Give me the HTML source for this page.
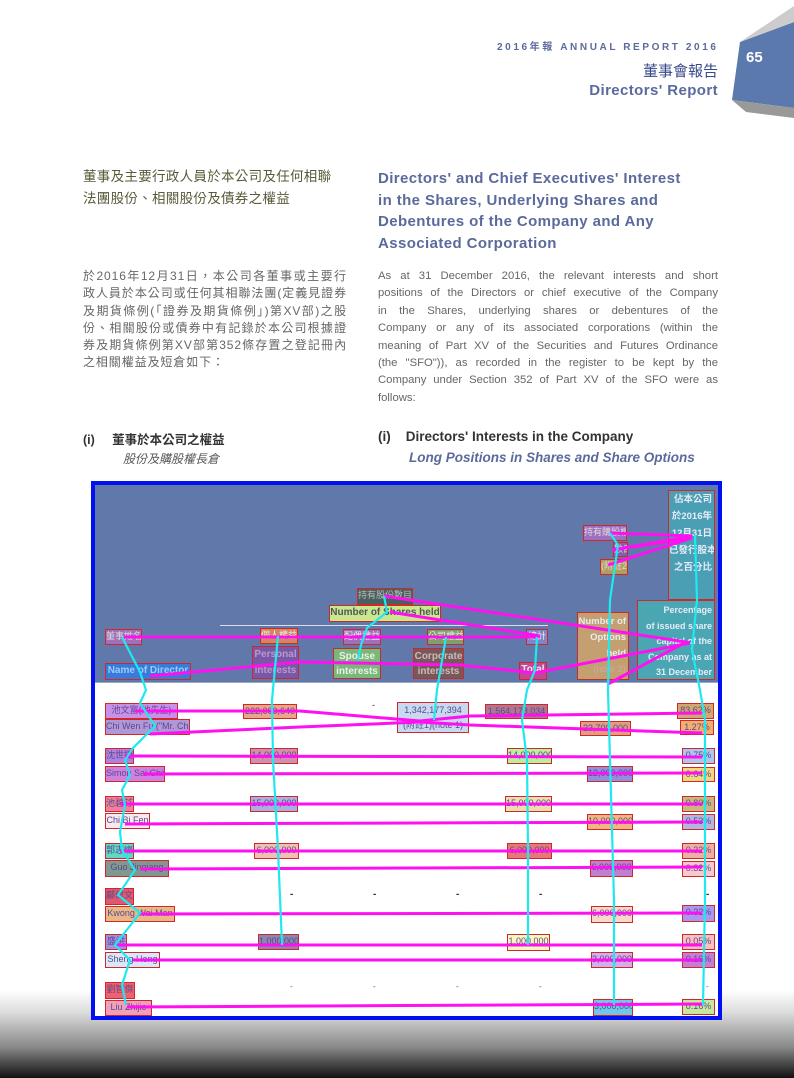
<!DOCTYPE html>
<html><head><meta charset="utf-8"><style>
body{margin:0;width:794px;height:1078px;position:relative;background:#fff;overflow:hidden;font-family:"Liberation Sans","Noto Sans CJK TC",sans-serif;}
.a{position:absolute;white-space:nowrap}
.b{position:absolute;border:1px solid #d02828;box-sizing:border-box;font-size:9px;line-height:13px;color:#5a4a8a;overflow:hidden;white-space:nowrap;text-align:center}
.h{color:#5b6a9c;font-weight:bold;font-size:15px;letter-spacing:0.4px}
.p{color:#666;font-size:11.3px;line-height:17.4px}
.p div{text-align:justify;text-align-last:justify;white-space:nowrap}
.w{color:#e8ecf8;font-weight:bold;font-size:9.5px;line-height:17px;text-align:right;padding-right:2px}
</style></head><body>
<div style="position:absolute;left:0;top:990px;width:794px;height:88px;background:linear-gradient(#fff,#ddd 25%,#888 65%,#111)"></div>

<div class="a" style="left:497px;top:38px;font-size:10px;font-weight:bold;color:#5b6a9c;letter-spacing:2.6px">2016年報 ANNUAL REPORT 2016</div>
<div class="a" style="right:76px;top:60px;font-size:15px;color:#3a4a8a">董事會報告</div>
<div class="a h" style="right:76px;top:82px;font-size:15px">Directors' Report</div>
<svg class="a" style="left:726px;top:0" width="68" height="125"><polygon points="14,42 68,22 68,108 6,100" fill="#5b79ad"/><polygon points="6,100 68,108 68,118 20,112" fill="#999"/><polygon points="14,42 68,6 68,22" fill="#ccc"/><text x="20" y="62" fill="#fff" font-size="15" font-weight="bold" font-family="Liberation Sans">65</text></svg>

<div class="a" style="left:83px;top:166px;font-size:13.5px;line-height:21.5px;color:#5a5a3a;letter-spacing:0.3px">董事及主要行政人員於本公司及任何相聯<br>法團股份、相關股份及債券之權益</div>
<div class="a h" style="left:378px;top:168px;line-height:21.5px">Directors' and Chief Executives' Interest<br>in the Shares, Underlying Shares and<br>Debentures of the Company and Any<br>Associated Corporation</div>
<div class="a p" style="left:83px;top:268px;width:264px;white-space:normal;text-align:justify;font-size:12px;letter-spacing:0.9px;line-height:17.3px">於2016年12月31日，本公司各董事或主要行政人員於本公司或任何其相聯法團(定義見證券及期貨條例(「證券及期貨條例」)第XV部)之股份、相關股份或債券中有記錄於本公司根據證券及期貨條例第XV部第352條存置之登記冊內之相關權益及短倉如下：</div>
<div class="a p" style="left:378px;top:268px;width:340px">
<div>As at 31 December 2016, the relevant interests and short</div>
<div>positions of the Directors or chief executive of the Company</div>
<div>in the Shares, underlying shares or debentures of the</div>
<div>Company or any of its associated corporations (within the</div>
<div>meaning of Part XV of the Securities and Futures Ordinance</div>
<div>(the "SFO")), as recorded in the register to be kept by the</div>
<div>Company under Section 352 of Part XV of the SFO were as</div>
<div style="text-align-last:left">follows:</div>
</div>
<div class="a" style="left:83px;top:429px;font-size:12.5px;font-weight:bold;color:#333">(i)&nbsp;&nbsp;&nbsp;&nbsp;&nbsp;董事於本公司之權益</div>
<div class="a" style="left:123px;top:450px;font-size:12px;font-style:italic;color:#555">股份及購股權長倉</div>
<div class="a" style="left:378px;top:429px;font-size:13.5px;font-weight:bold;color:#333">(i)&nbsp;&nbsp;&nbsp;&nbsp;Directors' Interests in the Company</div>
<div class="a" style="left:409px;top:450px;font-size:13.5px;font-weight:bold;font-style:italic;color:#5b6a9c">Long Positions in Shares and Share Options</div>

<div style="position:absolute;left:91px;top:481px;width:631px;height:539px;box-sizing:border-box;border:4px solid #0010f0;background:#fff"></div>
<div style="position:absolute;left:95px;top:485px;width:623px;height:197px;background:#6079aa"></div>
<div style="position:absolute;left:220px;top:625px;width:328px;height:1px;background:#dde"></div>
<div style="position:absolute;left:95px;top:682px;width:623px;height:1px;background:#9ab"></div>

<div class="b w" style="left:668px;top:490px;width:47px;height:110px;background:#4a9fb4">佔本公司<br>於2016年<br>12月31日<br>已發行股本<br>之百分比</div>
<div class="b w" style="left:637px;top:600px;width:78px;height:80px;background:#4aa6b2;line-height:15.5px;padding-top:2px;font-size:9px">Percentage<br>of issued share<br>capital of the<br>Company as at<br>31 December<br>2016</div>
<div class="b" style="left:583px;top:525px;width:44px;height:16px;background:#a070c0;color:#ddd">持有購股權</div>
<div class="b" style="left:613px;top:542px;width:15px;height:15px;background:#8060b0;color:#ddd">數目</div>
<div class="b" style="left:600px;top:559px;width:28px;height:16px;background:#b0a060;color:#ddd">(附註2)</div>
<div class="b w" style="left:577px;top:612px;width:52px;height:68px;background:#c4a070;line-height:16px;padding-top:1px">Number of<br>Options<br>held<br><span style="font-weight:normal;color:#caa">(note 2)</span></div>
<div class="b" style="left:357px;top:588px;width:56px;height:17px;background:#4a6060;color:#bbb">持有股份數目</div>
<div class="b" style="left:329px;top:605px;width:112px;height:17px;background:#c8e890;color:#555;font-weight:bold;font-size:10px">Number of Shares held</div>
<div class="b" style="left:105px;top:629px;width:37px;height:16px;background:#a070b8;color:#ddd">董事姓名</div>
<div class="b" style="left:105px;top:663px;width:86px;height:17px;background:#3a7ad8;color:#9cf;font-weight:bold;font-size:10px">Name of Director</div>
<div class="b" style="left:260px;top:628px;width:38px;height:16px;background:#d08860;color:#eee">個人權益</div>
<div class="b" style="left:252px;top:646px;width:47px;height:33px;background:#7a58a8;color:#b9c;font-weight:bold;font-size:10px;line-height:16px">Personal<br>interests</div>
<div class="b" style="left:343px;top:629px;width:38px;height:16px;background:#a070b8;color:#eee">配偶權益</div>
<div class="b" style="left:333px;top:648px;width:48px;height:31px;background:#78b878;color:#eee;font-weight:bold;font-size:10px;line-height:15px">Spouse<br>interests</div>
<div class="b" style="left:427px;top:629px;width:37px;height:16px;background:#80a068;color:#eee">公司權益</div>
<div class="b" style="left:413px;top:648px;width:51px;height:31px;background:#785858;color:#cbb;font-weight:bold;font-size:10px;line-height:15px">Corporate<br>interests</div>
<div class="b" style="left:526px;top:629px;width:22px;height:16px;background:#7a88c8;color:#eee">總計</div>
<div class="b" style="left:519px;top:662px;width:28px;height:18px;background:#c04898;color:#eee;font-weight:bold;font-size:10px">Total</div>

<div class="b" style="left:105px;top:703px;width:73px;height:16px;background:#c890e8">池文富(池先生)</div>
<div class="b" style="left:105px;top:719px;width:85px;height:16px;background:#b098d8">Chi Wen Fu ("Mr. Chi")</div>
<div class="b" style="left:243px;top:704px;width:54px;height:15px;background:#e8a888">222,000,640</div>
<div class="b" style="left:397px;top:702px;width:72px;height:31px;background:#c8d8f0;line-height:15px">1,342,177,394<br>(附註1)(note 1)</div>
<div class="b" style="left:485px;top:704px;width:63px;height:15px;background:#b07890">1,564,178,034</div>
<div class="b" style="left:580px;top:721px;width:51px;height:15px;background:#e0a080">23,700,000</div>
<div class="b" style="left:677px;top:703px;width:37px;height:16px;background:#d0a870">83.62%</div>
<div class="b" style="left:680px;top:720px;width:34px;height:15px;background:#f0b070">1.27%</div>

<div class="b" style="left:105px;top:748px;width:29px;height:16px;background:#b080e0">沈世捷</div>
<div class="b" style="left:105px;top:766px;width:60px;height:16px;background:#d080e0">Simon Sai Chit</div>
<div class="b" style="left:250px;top:748px;width:48px;height:16px;background:#d090b0">14,000,000</div>
<div class="b" style="left:507px;top:748px;width:45px;height:16px;background:#b8f0a0">14,000,000</div>
<div class="b" style="left:587px;top:766px;width:46px;height:16px;background:#9090e0">12,000,000</div>
<div class="b" style="left:682px;top:748px;width:33px;height:16px;background:#a8c8f0">0.75%</div>
<div class="b" style="left:682px;top:767px;width:33px;height:15px;background:#f0d880">0.64%</div>

<div class="b" style="left:105px;top:796px;width:29px;height:16px;background:#f080a0">池碧芬</div>
<div class="b" style="left:105px;top:813px;width:45px;height:16px;background:#f8e8f0">Chi Bi Fen</div>
<div class="b" style="left:250px;top:796px;width:48px;height:16px;background:#a8b0e0">15,000,000</div>
<div class="b" style="left:505px;top:796px;width:47px;height:16px;background:#e8e0b0">15,000,000</div>
<div class="b" style="left:587px;top:814px;width:46px;height:16px;background:#f0b880">10,000,000</div>
<div class="b" style="left:682px;top:796px;width:33px;height:16px;background:#c8b880">0.80%</div>
<div class="b" style="left:682px;top:814px;width:33px;height:16px;background:#b0b8e0">0.53%</div>

<div class="b" style="left:105px;top:843px;width:29px;height:16px;background:#60d8c8">郭志燦</div>
<div class="b" style="left:105px;top:860px;width:64px;height:17px;background:#809890">Guo Jinqiang</div>
<div class="b" style="left:254px;top:843px;width:45px;height:16px;background:#f0c0b0">6,000,000</div>
<div class="b" style="left:507px;top:843px;width:45px;height:16px;background:#e87878">6,000,000</div>
<div class="b" style="left:590px;top:860px;width:43px;height:17px;background:#c080d0">6,000,000</div>
<div class="b" style="left:682px;top:843px;width:33px;height:16px;background:#f0b0a0">0.32%</div>
<div class="b" style="left:682px;top:861px;width:33px;height:16px;background:#f8c8d0">0.32%</div>

<div class="b" style="left:105px;top:888px;width:29px;height:17px;background:#e05870">鄺偉文</div>
<div class="b" style="left:105px;top:906px;width:70px;height:16px;background:#e8b888">Kwong Wai Man</div>
<div class="b" style="left:591px;top:906px;width:42px;height:17px;background:#f8d8c8">6,000,000</div>
<div class="b" style="left:682px;top:905px;width:33px;height:17px;background:#a898f0">0.32%</div>

<div class="b" style="left:105px;top:934px;width:22px;height:16px;background:#a090e0">盛洪</div>
<div class="b" style="left:258px;top:934px;width:41px;height:16px;background:#8888b0">1,000,000</div>
<div class="b" style="left:507px;top:934px;width:43px;height:17px;background:#f8f8c0">1,000,000</div>
<div class="b" style="left:105px;top:952px;width:55px;height:16px;background:#d8e8f8">Sheng Hong</div>
<div class="b" style="left:591px;top:952px;width:42px;height:16px;background:#d0b0e8">3,000,000</div>
<div class="b" style="left:682px;top:934px;width:33px;height:16px;background:#f8c0c0">0.05%</div>
<div class="b" style="left:682px;top:952px;width:33px;height:16px;background:#c080d8">0.16%</div>

<div class="b" style="left:105px;top:982px;width:30px;height:17px;background:#f06070">劉智傑</div>
<div class="b" style="left:105px;top:1000px;width:47px;height:16px;background:#f0a0b8">Liu Zhijie</div>
<div class="b" style="left:593px;top:999px;width:40px;height:17px;background:#70c8e8">3,000,000</div>
<div class="b" style="left:682px;top:999px;width:33px;height:16px;background:#c8e8a0">0.16%</div>

<div class="a" style="left:372px;top:700px;font-size:9px;color:#333">-</div>
<div class="a" style="left:290px;top:889px;font-size:10px;font-weight:bold;color:#333">-</div>
<div class="a" style="left:373px;top:889px;font-size:10px;font-weight:bold;color:#333">-</div>
<div class="a" style="left:456px;top:889px;font-size:10px;font-weight:bold;color:#333">-</div>
<div class="a" style="left:539px;top:889px;font-size:10px;font-weight:bold;color:#333">-</div>
<div class="a" style="left:706px;top:889px;font-size:10px;font-weight:bold;color:#333">-</div>
<div class="a" style="left:290px;top:982px;font-size:8px;color:#555">-</div>
<div class="a" style="left:373px;top:982px;font-size:8px;color:#555">-</div>
<div class="a" style="left:456px;top:982px;font-size:8px;color:#555">-</div>
<div class="a" style="left:539px;top:982px;font-size:8px;color:#555">-</div>
<div class="a" style="left:706px;top:982px;font-size:8px;color:#555">-</div>

<svg class="a" style="left:0;top:0" width="794" height="1078" fill="none">
<g stroke="#ff10f0" stroke-width="3">
<polyline points="610,533 692,536 612,550 692,538 608,565"/>
<polyline points="384,596 686,642 608,684"/>
<polyline points="390,612 540,636"/>
<polyline points="124,637 540,637"/>
<polyline points="150,676 300,662 460,665 535,673 690,643"/>
<polyline points="135,711 300,711 420,721 470,716 702,713"/>
<polyline points="150,734 300,727 420,722 470,725 702,733"/>
<polyline points="125,756 702,757"/>
<polyline points="143,774 702,773"/>
<polyline points="120,804 702,804"/>
<polyline points="125,824 702,822"/>
<polyline points="120,851 702,851"/>
<polyline points="140,869 702,867"/>
<polyline points="138,914 702,913"/>
<polyline points="115,945 702,945"/>
<polyline points="133,960 702,960"/>
<polyline points="127,1007 702,1004"/>
</g>
<g stroke="#20e8f0" stroke-width="2.2">
<polyline points="122,637 140,672 146,690 140,703 155,726 133,748 125,760 130,775 122,790 125,805 120,832 122,850 135,870 118,895 140,913 115,945 130,960 122,985 126,1005"/>
<polyline points="278,636 272,700 273,760 278,850 282,945"/>
<polyline points="384,596 387,612 367,628 361,645 358,660"/>
<polyline points="446,637 437,690 434,720"/>
<polyline points="537,637 535,670 527,690 522,720 527,760 528,850 528,945"/>
<polyline points="610,533 618,545 610,600 608,690 610,760 614,900 614,1005"/>
<polyline points="695,535 697,600 692,650 700,690 705,720 705,900 703,1005"/>
</g>
</svg>
</body></html>
